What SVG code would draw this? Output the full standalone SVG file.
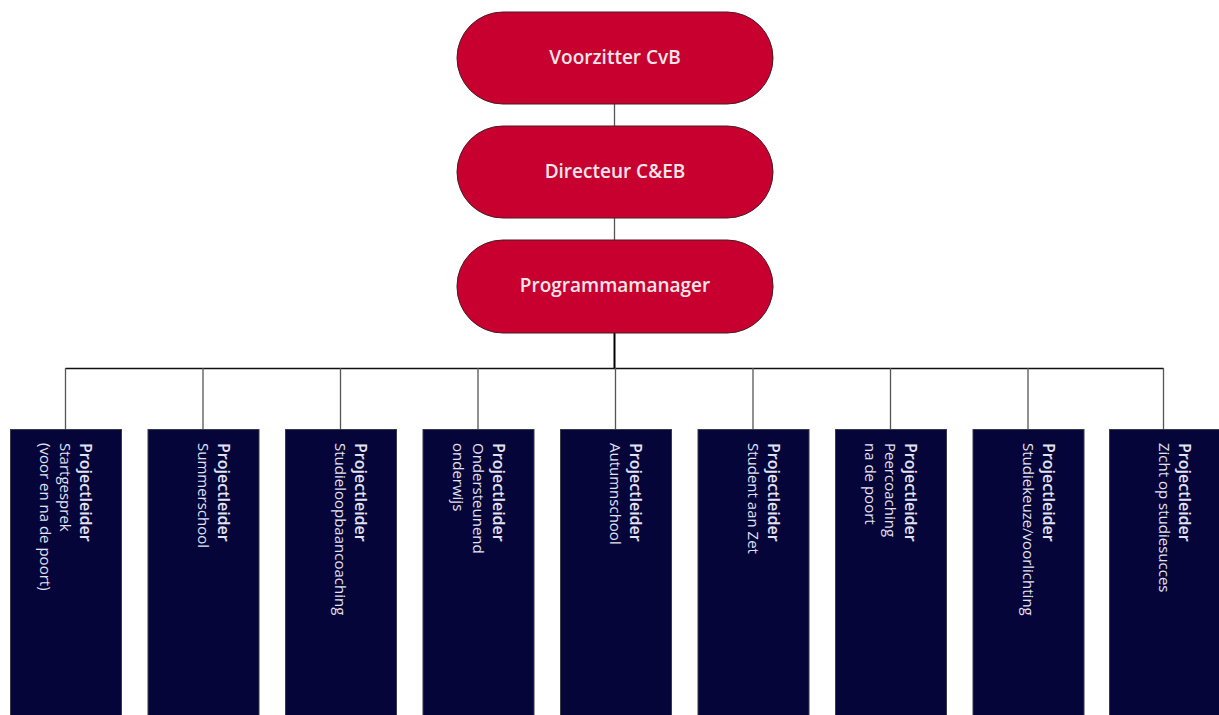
<svg xmlns="http://www.w3.org/2000/svg" width="1219" height="715" viewBox="0 0 1219 715">
<style>
.pill{fill:#c8002f;stroke:#4a1a22;stroke-width:1}
.pt{font-family:"Open Sans","Liberation Sans",sans-serif;font-size:19px;font-weight:600;fill:#f4e6ea;text-anchor:middle}
.box{fill:#05053a;stroke:#3a3a48;stroke-width:1}
.bt{font-family:"Open Sans","Liberation Sans",sans-serif;font-size:15px;fill:#e2e2f2}
.b1{font-weight:600;font-size:16px}
.c{stroke:#555;stroke-width:1.3;fill:none}
.ck{stroke:#000;stroke-width:2;fill:none}
</style>
<rect width="1219" height="715" fill="#fff"/>
<g id="connectors">
<line class="c" x1="614.5" y1="104" x2="614.5" y2="126"/>
<line class="c" x1="614.5" y1="218" x2="614.5" y2="240"/>
<line class="ck" x1="614.5" y1="333" x2="614.5" y2="368"/>
<line class="ck" x1="65.5" y1="368.5" x2="1163.5" y2="368.5" style="stroke-width:1.3;stroke:#111"/>
<line class="c" x1="65.5" y1="368" x2="65.5" y2="429"/>
<line class="c" x1="203" y1="368" x2="203" y2="429"/>
<line class="c" x1="340.5" y1="368" x2="340.5" y2="429"/>
<line class="c" x1="478" y1="368" x2="478" y2="429"/>
<line class="c" x1="615.5" y1="368" x2="615.5" y2="429"/>
<line class="c" x1="753" y1="368" x2="753" y2="429"/>
<line class="c" x1="890.5" y1="368" x2="890.5" y2="429"/>
<line class="c" x1="1028" y1="368" x2="1028" y2="429"/>
<line class="c" x1="1163.5" y1="368" x2="1163.5" y2="429"/>
</g>
<g id="n-voorzitter"><rect class="pill" x="457" y="12" width="316" height="92" rx="46"/><text class="pt" x="615" y="64">Voorzitter CvB</text></g>
<g id="n-directeur"><rect class="pill" x="457" y="126" width="316" height="92" rx="46"/><text class="pt" x="615" y="178">Directeur C&amp;EB</text></g>
<g id="n-programmamanager"><rect class="pill" x="457" y="240" width="316" height="93" rx="46"/><text class="pt" x="615" y="292">Programmamanager</text></g>
<g id="n-startgesprek"><rect class="box" x="10.5" y="429.5" width="111" height="290"/>
<text class="bt" transform="translate(80,443) rotate(90)"><tspan class="b1" x="0" y="0">Projectleider</tspan><tspan x="0" y="20">Startgesprek</tspan><tspan x="0" y="40">(voor en na de poort)</tspan></text></g>
<g id="n-summerschool"><rect class="box" x="148" y="429.5" width="111" height="290"/>
<text class="bt" transform="translate(217.5,443) rotate(90)"><tspan class="b1" x="0" y="0">Projectleider</tspan><tspan x="0" y="20">Summerschool</tspan></text></g>
<g id="n-slb"><rect class="box" x="285.5" y="429.5" width="111" height="290"/>
<text class="bt" transform="translate(355,443) rotate(90)"><tspan class="b1" x="0" y="0">Projectleider</tspan><tspan x="0" y="20">Studieloopbaancoaching</tspan></text></g>
<g id="n-ondersteunend"><rect class="box" x="423" y="429.5" width="111" height="290"/>
<text class="bt" transform="translate(492.5,443) rotate(90)"><tspan class="b1" x="0" y="0">Projectleider</tspan><tspan x="0" y="20">Ondersteunend</tspan><tspan x="0" y="40">onderwijs</tspan></text></g>
<g id="n-autumnschool"><rect class="box" x="560.5" y="429.5" width="111" height="290"/>
<text class="bt" transform="translate(630,443) rotate(90)"><tspan class="b1" x="0" y="0">Projectleider</tspan><tspan x="0" y="20">Autumnschool</tspan></text></g>
<g id="n-studentaanzet"><rect class="box" x="698" y="429.5" width="111" height="290"/>
<text class="bt" transform="translate(767.5,443) rotate(90)"><tspan class="b1" x="0" y="0">Projectleider</tspan><tspan x="0" y="20">Student aan Zet</tspan></text></g>
<g id="n-peercoaching"><rect class="box" x="835.5" y="429.5" width="111" height="290"/>
<text class="bt" transform="translate(905,443) rotate(90)"><tspan class="b1" x="0" y="0">Projectleider</tspan><tspan x="0" y="20">Peercoaching</tspan><tspan x="0" y="40">na de poort</tspan></text></g>
<g id="n-studiekeuze"><rect class="box" x="973" y="429.5" width="111" height="290"/>
<text class="bt" transform="translate(1042.5,443) rotate(90)"><tspan class="b1" x="0" y="0">Projectleider</tspan><tspan x="0" y="20">Studiekeuze/voorlichting</tspan></text></g>
<g id="n-studiesucces"><rect class="box" x="1109.5" y="429.5" width="111" height="290"/>
<text class="bt" transform="translate(1179,443) rotate(90)"><tspan class="b1" x="0" y="0">Projectleider</tspan><tspan x="0" y="20">Zicht op studiesucces</tspan></text></g>
</svg>
